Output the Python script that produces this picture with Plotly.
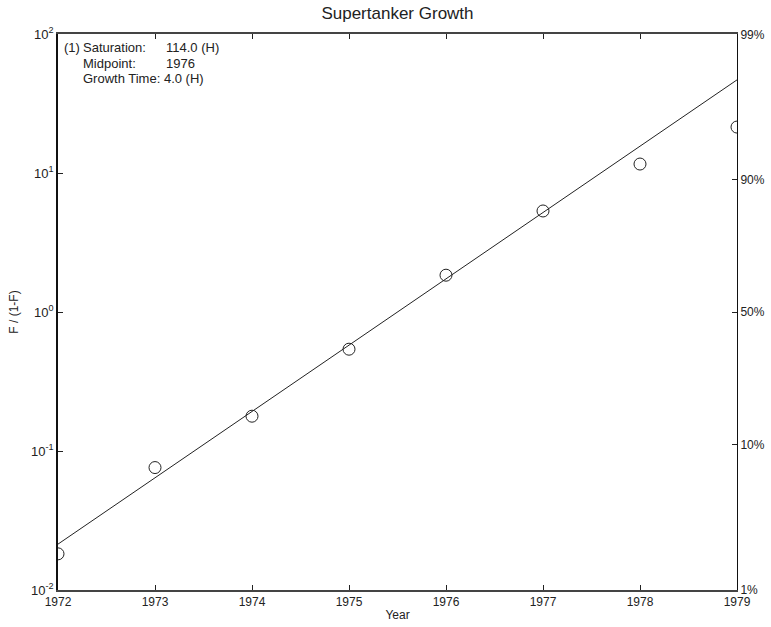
import numpy as np
import plotly.graph_objects as go

# Observed supertanker adoption, expressed as F / (1 - F)
years = [1972, 1973, 1974, 1975, 1976, 1977, 1978, 1979]
ratio = [0.0182, 0.0760, 0.178, 0.540, 1.84, 5.33, 11.6, 21.4]

# Logistic fit parameters
saturation = 114.0
midpoint = 1975.5
growth_time = 4.0  # 10%-90% time

# Fisher-Pry line: F/(1-F) = exp(k (t - tm)), k = ln(81) / growth_time
k = np.log(81.0) / growth_time
fit_t = np.linspace(1972, 1979, 200)
fit_ratio = np.exp(k * (fit_t - midpoint))

left_ticks = [0.01, 0.1, 1, 10, 100]
left_text = ["10<sup>-2</sup>", "10<sup>-1</sup>", "10<sup>0</sup>", "10<sup>1</sup>", "10<sup>2</sup>"]
pct_levels = [0.01, 0.10, 0.50, 0.90, 0.99]
pct_text = ["1%", "10%", "50%", "90%", "99%"]
pct_ticks = [p / (1 - p) for p in pct_levels]
year_ticks = list(range(1972, 1980))

W, H = 771, 627
L, R, T, B = 58, 34, 34, 37
font = dict(family="Liberation Sans, Arial, sans-serif", size=12, color="#222")

fig = go.Figure()
fig.add_trace(go.Scatter(
    x=fit_t, y=fit_ratio, mode="lines",
    line=dict(color="#222", width=1), showlegend=False, hoverinfo="skip",
))
fig.add_trace(go.Scatter(
    x=years, y=ratio, mode="markers",
    marker=dict(symbol="circle-open", size=12, color="#222", line=dict(width=1)),
    showlegend=False, cliponaxis=True,
))
fig.add_trace(go.Scatter(x=[], y=[], yaxis="y2", showlegend=False))

# Fit summary block in the upper-left corner, one annotation per text cell
pw, ph = W - L - R, H - T - B


def px_x(p):
    return (p - L) / pw


def px_y(p):
    return 1 - (p - T) / ph


note_font = dict(size=13, color="#222")
row_y = [48, 63.5, 79]
cells = [
    (62, 0, "(1)"),
    (81, 0, "Saturation:"),
    (164, 0, f"{saturation:.1f} (H)"),
    (81, 1, "Midpoint:"),
    (164, 1, f"{midpoint:.0f}"),
    (81, 2, f"Growth Time: {growth_time:.1f} (H)"),
]
annotations = [
    dict(text=txt, xref="paper", yref="paper", x=px_x(xp), y=px_y(row_y[r]),
         xanchor="left", yanchor="middle", align="left", showarrow=False,
         font=note_font)
    for xp, r, txt in cells
]

fig.update_layout(
    width=W, height=H,
    margin=dict(l=L, r=R, t=T, b=B),
    paper_bgcolor="white", plot_bgcolor="white",
    font=font,
    title=dict(text="Supertanker Growth", x=(L + W - R) / 2 / W, xanchor="center",
               y=1 - 13 / H, yanchor="middle", font=dict(size=17, color="#222")),
    xaxis=dict(
        range=[1972, 1979], tickvals=year_ticks, ticktext=[str(y) for y in year_ticks],
        ticks="inside", ticklen=5, tickcolor="#222", showgrid=False, zeroline=False,
        showline=True, linecolor="#444", linewidth=1.5, mirror="ticks",
        automargin=False,
        title=dict(text="Year", standoff=2, font=dict(size=12)),
    ),
    yaxis=dict(
        type="log", range=[-2, 2], tickvals=left_ticks, ticktext=left_text,
        ticks="inside", ticklen=5, tickcolor="#222", showgrid=False, zeroline=False,
        showline=True, linecolor="#111", linewidth=1.5, automargin=False,
        tickfont=dict(size=13),
        title=dict(text="F / (1-F)", standoff=10, font=dict(size=12)),
    ),
    yaxis2=dict(
        type="log", range=[-2, 2], overlaying="y", side="right",
        tickvals=pct_ticks, ticktext=pct_text, automargin=False,
        ticks="inside", ticklen=5, tickcolor="#222", showgrid=False, zeroline=False,
        showline=True, linecolor="#111", linewidth=1,
    ),
    annotations=annotations,
)

fig.write_html("out.html")
